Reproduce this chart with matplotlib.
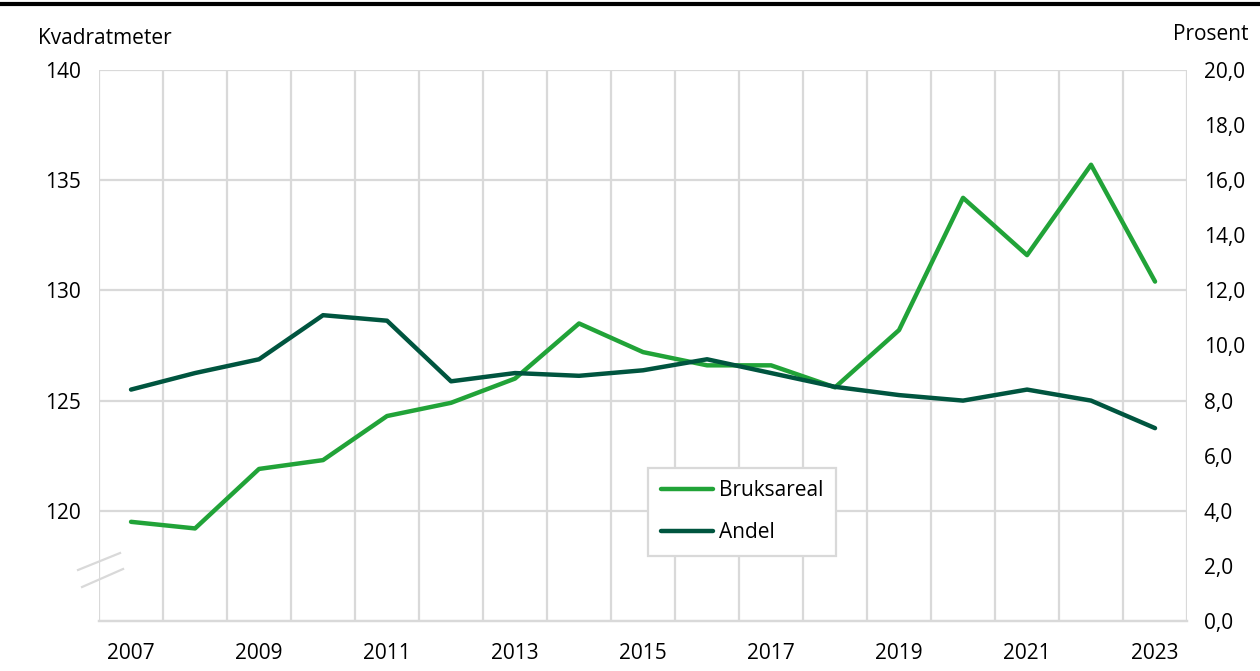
import matplotlib
matplotlib.use("Agg")
import matplotlib.pyplot as plt
from matplotlib.lines import Line2D
from matplotlib.ticker import FixedLocator, FuncFormatter

plt.rcParams.update({'font.family': ['Open Sans', 'DejaVu Sans'], 'font.size': 15})

years = list(range(2007, 2024))
bruksareal = [119.5, 119.2, 121.9, 122.3, 124.3, 124.9, 126.0, 128.5, 127.2,
              126.6, 126.6, 125.6, 128.2, 134.2, 131.6, 135.7, 130.4]
andel = [8.4, 9.0, 9.5, 11.1, 10.9, 8.7, 9.0, 8.9, 9.1,
         9.5, 9.0, 8.5, 8.2, 8.0, 8.4, 8.0, 7.0]
left_ticks = [120, 125, 130, 135, 140]
right_ticks = [0, 2, 4, 6, 8, 10, 12, 14, 16, 18, 20]
x_labels = list(range(2007, 2024, 2))

LIGHT = '#21a338'
DARK = '#00553f'
GRID = '#d9d9d9'

fig = plt.figure(figsize=(12.6, 6.71), dpi=100)
ax = fig.add_axes([0.0786, 0.0745, 0.8635, 0.8212])
ax2 = ax.twinx()

l1, = ax.plot(years, bruksareal, color=LIGHT, lw=3.2, label='Bruksareal', solid_capstyle='round')
l2, = ax2.plot(years, andel, color=DARK, lw=3.2, label='Andel', solid_capstyle='round')

ax.set_xlim(2006.5, 2023.5)
ax.set_ylim(115, 140)
ax2.set_ylim(0, 20)
ax.set_yticks(left_ticks)
ax2.set_yticks(right_ticks)
ax2.yaxis.set_major_formatter(FuncFormatter(lambda v, p: f"{v:.1f}".replace('.', ',')))
ax.set_xticks(x_labels)
ax.xaxis.set_minor_locator(FixedLocator([y - 0.5 for y in range(2007, 2025)]))

ax.grid(True, axis='y', color=GRID, lw=1.6)
ax.grid(True, axis='x', which='minor', color=GRID, lw=1.6)
ax.set_axisbelow(True)

for a in (ax, ax2):
    for s in ('top', 'left', 'right'):
        a.spines[s].set_visible(False)
    a.spines['bottom'].set_color(GRID)
    a.spines['bottom'].set_linewidth(1.6)
ax.tick_params(axis='both', which='both', length=0, labelsize=15, colors='black')
ax.tick_params(axis='y', pad=13)
ax.tick_params(axis='x', pad=16)
ax2.tick_params(axis='y', length=0, labelsize=15, pad=12)

ax2.legend([l1, l2], ['Bruksareal', 'Andel'], loc='center', bbox_to_anchor=(0.591, 0.198),
           frameon=True, fancybox=False, edgecolor=GRID, framealpha=1, fontsize=15,
           handlelength=2.5, handletextpad=0.3, labelspacing=1.0, borderpad=0.6)
ax2.get_legend().get_frame().set_linewidth(1.6)

# axis break marks
ax.add_line(Line2D([-0.0193, 0.0193], [0.0926, 0.1234], transform=ax.transAxes,
                   color=GRID, lw=1.6, clip_on=False))
ax.add_line(Line2D([-0.0156, 0.0221], [0.0617, 0.0944], transform=ax.transAxes,
                   color=GRID, lw=1.6, clip_on=False))

fig.add_artist(Line2D([0, 1], [0.994, 0.994], color='black', lw=3))
fig.text(0.0302, 0.9425, 'Kvadratmeter', ha='left', va='center', fontsize=15)
fig.text(0.9905, 0.9480, 'Prosent', ha='right', va='center', fontsize=15)

fig.savefig('out.png', dpi=100)
